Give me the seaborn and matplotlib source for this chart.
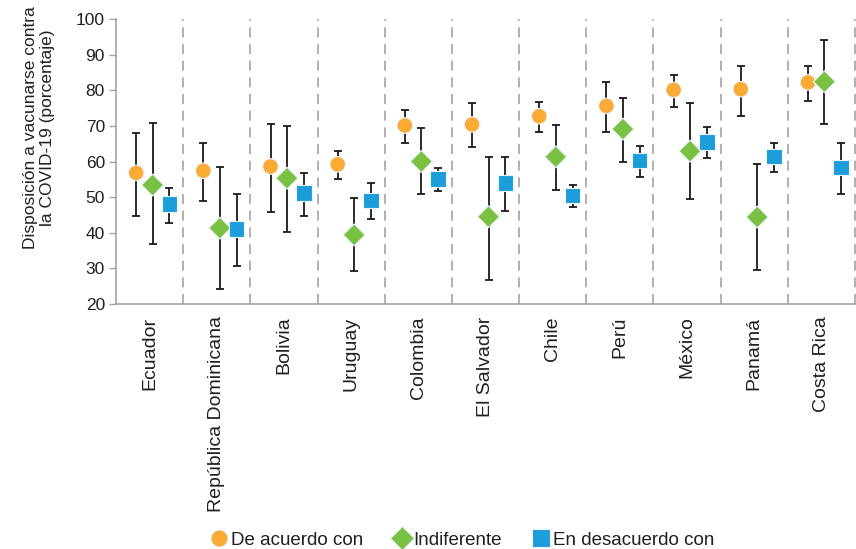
import pandas as pd
import matplotlib
matplotlib.use("Agg")
import matplotlib.pyplot as plt
import seaborn as sns

# Data
paises = ["Ecuador", "República Dominicana", "Bolivia", "Uruguay", "Colombia",
          "El Salvador", "Chile", "Perú", "México", "Panamá", "Costa Rica"]
grupos = ["De acuerdo con", "Indiferente", "En desacuerdo con"]

acuerdo = [56.8, 57.4, 58.6, 59.2, 70.1, 70.4, 72.7, 75.6, 80.1, 80.3, 82.2]
acuerdo_lo = [44.7, 49.0, 45.9, 55.0, 65.1, 64.2, 68.2, 68.4, 75.3, 72.9, 76.9]
acuerdo_hi = [68.0, 65.2, 70.5, 62.9, 74.5, 76.3, 76.6, 82.4, 84.4, 86.9, 86.8]

indiferente = [53.4, 41.3, 55.3, 39.4, 60.0, 44.5, 61.3, 69.1, 62.9, 44.4, 82.4]
indiferente_lo = [36.8, 24.1, 40.3, 29.2, 50.8, 26.8, 52.1, 60.0, 49.5, 29.5, 70.6]
indiferente_hi = [70.8, 58.5, 70.0, 49.8, 69.4, 61.4, 70.2, 77.9, 76.3, 59.2, 94.1]

desacuerdo = [48.1, 41.1, 51.2, 49.1, 55.1, 54.0, 50.4, 60.3, 65.5, 61.4, 58.3]
desacuerdo_lo = [42.6, 30.8, 44.8, 43.8, 51.7, 46.2, 47.1, 55.6, 61.0, 57.0, 50.8]
desacuerdo_hi = [52.7, 51.0, 56.7, 53.9, 58.3, 61.2, 53.3, 64.4, 69.6, 65.3, 65.3]

colores = {"De acuerdo con": "#F9AB34", "Indiferente": "#7AC143",
           "En desacuerdo con": "#1B9DD9"}
marcadores = {"De acuerdo con": "o", "Indiferente": "D", "En desacuerdo con": "s"}
desplaz = {"De acuerdo con": -0.2, "Indiferente": 0.045, "En desacuerdo con": 0.295}

series = {
    "De acuerdo con": (acuerdo, acuerdo_lo, acuerdo_hi),
    "Indiferente": (indiferente, indiferente_lo, indiferente_hi),
    "En desacuerdo con": (desacuerdo, desacuerdo_lo, desacuerdo_hi),
}

filas = []
for g in grupos:
    val, lo, hi = series[g]
    for i, p in enumerate(paises):
        filas.append({"pais": p, "grupo": g, "pos": i + desplaz[g],
                      "valor": val[i], "lo": lo[i], "hi": hi[i]})
df = pd.DataFrame(filas)

sns.set_theme(style="white")
plt.rcParams["font.family"] = ["Liberation Sans", "DejaVu Sans"]
gris = "#A3A3A3"
texto = "#231F20"

fig = plt.figure(figsize=(8.56, 5.49), dpi=100)
ax = fig.add_axes([116 / 856, 245 / 549, 739 / 856, 285 / 549])

# separadores discontinuos entre países
for b in range(len(paises)):
    ax.axvline(b + 0.5, color=gris, lw=1.2, ls=(0, (6, 4)), zorder=1, clip_on=False)

# barras de error
for g in grupos:
    d = df[df["grupo"] == g]
    ax.errorbar(d["pos"], d["valor"], yerr=[d["valor"] - d["lo"], d["hi"] - d["valor"]],
                fmt="none", ecolor="#1a1a1a", elinewidth=1.3, capsize=3.2,
                capthick=1.3, zorder=2)

sns.scatterplot(data=df, x="pos", y="valor", hue="grupo", style="grupo",
                palette=colores, markers=marcadores, s=125, linewidth=0.8,
                edgecolor="#EAF4FB", zorder=3, ax=ax)

handles, labels = ax.get_legend_handles_labels()
ax.legend_.remove()
fig.legend(handles, labels, loc="center", bbox_to_anchor=(461 / 856, 1 - 540 / 549),
           ncol=3, frameon=False, handletextpad=0.0, columnspacing=1.5,
           fontsize=13.5, labelcolor=texto, handlelength=1.2, markerscale=1.1)

ax.set_xlim(-0.5, len(paises) - 0.5)
ax.set_ylim(20, 100)
ax.set_yticks(range(20, 101, 10))
ax.set_xticks(range(len(paises)))
ax.set_xticklabels(paises, rotation=90, fontsize=14, color=texto, va="top")
ax.set_xticks([i - 0.5 for i in range(len(paises) + 1)], minor=True)
ax.tick_params(axis="x", which="major", length=0, pad=9)
ax.tick_params(axis="x", which="minor", length=6, color=gris, width=1, direction="out")
ax.tick_params(axis="y", length=5, color=gris, width=1, direction="out",
               labelsize=12.5, labelcolor=texto, pad=3, left=True)
ax.set_xlabel("")
ax.set_ylabel("Disposición a vacunarse contra\nla COVID-19 (porcentaje)",
              fontsize=12.5, color=texto, linespacing=1.1)
ax.yaxis.set_label_coords(-0.083, 0.62)

for s in ["top", "right"]:
    ax.spines[s].set_visible(False)
for s in ["left", "bottom"]:
    ax.spines[s].set_color(gris)
    ax.spines[s].set_linewidth(1.2)

fig.savefig("out.png", dpi=100)
